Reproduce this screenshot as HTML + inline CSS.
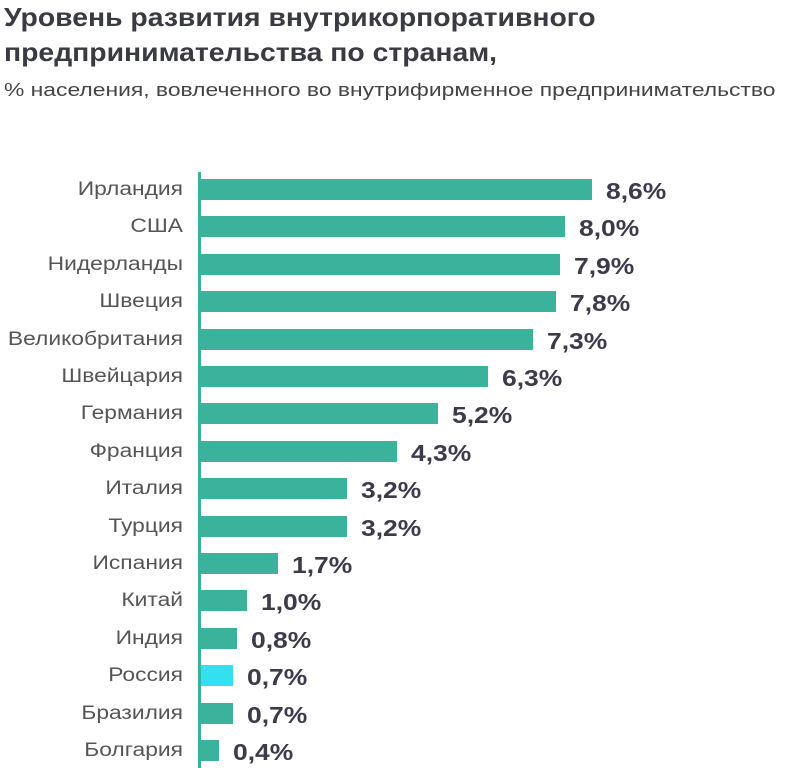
<!DOCTYPE html>
<html><head><meta charset="utf-8"><style>
body{margin:0;width:786px;height:768px;background:#fff;overflow:hidden;position:relative;font-family:"Liberation Sans",sans-serif}
.t{position:absolute;left:4px;font-weight:bold;font-size:26px;color:#3a3a42;transform:scaleX(1.09);transform-origin:left;white-space:nowrap}
.s{position:absolute;left:4px;top:80px;font-size:18px;color:#444;transform:scaleX(1.27);transform-origin:left;white-space:nowrap}
.ax{position:absolute;left:198px;top:172px;width:3px;height:596px;background:#3bb39c}
.l{position:absolute;left:0;width:183px;text-align:right;font-size:19px;color:#555;line-height:22px;transform:scaleX(1.2);transform-origin:right;white-space:nowrap}
.b{position:absolute;left:201px;height:21px;background:#3bb39c}
.v{position:absolute;font-weight:bold;font-size:23px;color:#3d3a4a;line-height:22px;transform:scaleX(1.15);transform-origin:left;white-space:nowrap}
</style></head><body>
<div class="t" style="top:2px">Уровень развития внутрикорпоративного</div>
<div class="t" style="top:37px">предпринимательства по странам,</div>
<div class="s">% населения, вовлеченного во внутрифирменное предпринимательство</div>
<div class="ax"></div>
<div id="c"></div>
<script>
var d=[["Ирландия",8.6],["США",8.0],["Нидерланды",7.9],["Швеция",7.8],["Великобритания",7.3],["Швейцария",6.3],["Германия",5.2],["Франция",4.3],["Италия",3.2],["Турция",3.2],["Испания",1.7],["Китай",1.0],["Индия",0.8],["Россия",0.7],["Бразилия",0.7],["Болгария",0.4]];
var h="";
d.forEach(function(e,i){var y=179+i*37.4;var w=Math.round(e[1]*45.5);
h+='<div class="l" style="top:'+(y)+'px">'+e[0]+'</div>';
h+='<div class="b" style="top:'+y+'px;width:'+w+'px;'+(e[0]=="Россия"?'background:#33e0f0':'')+'"></div>';
h+='<div class="v" style="top:'+(y+1)+'px;left:'+(201+w+14)+'px">'+e[1].toFixed(1).replace(".",",")+'%</div>';});
document.getElementById("c").innerHTML=h;
</script>
</body></html>
